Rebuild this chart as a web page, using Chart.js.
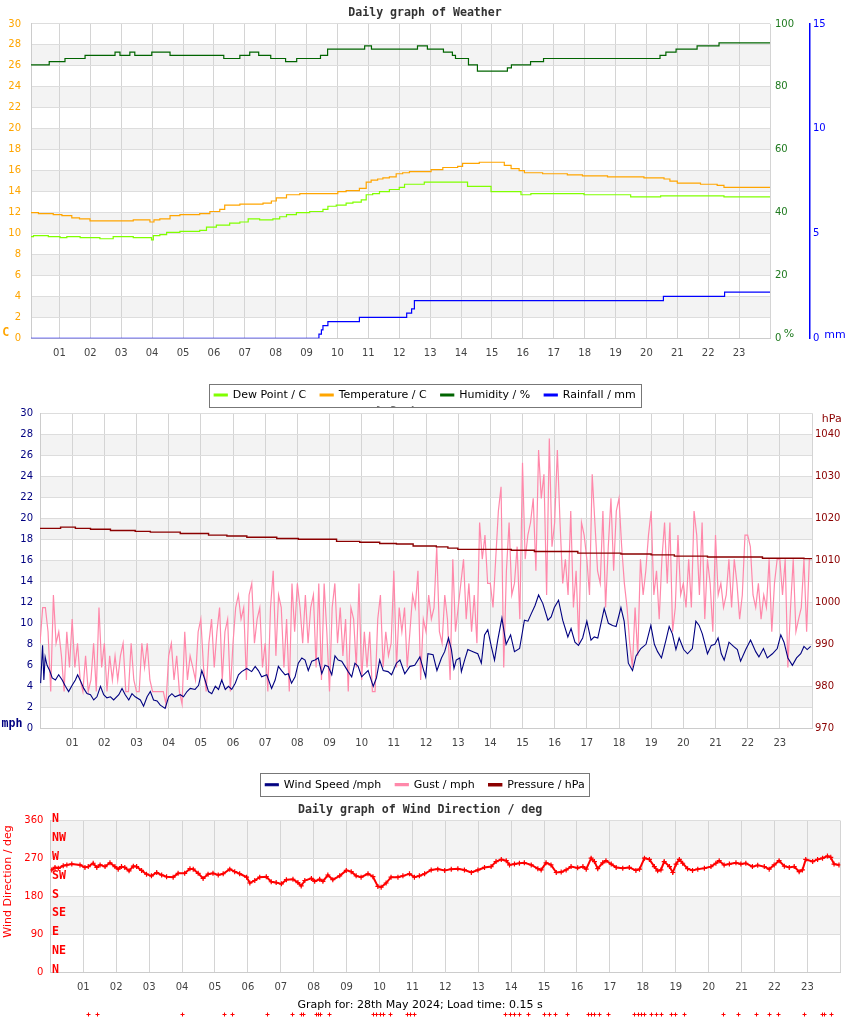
<!DOCTYPE html>
<html>
<head>
<meta charset="utf-8">
<script src="https://cdn.jsdelivr.net/npm/chart.js@4.4.1/dist/chart.umd.min.js"></script>
<style>
  body { margin: 0; background: #fff; }
  #wrap { position: relative; width: 850px; height: 1017px; }
  canvas { position: absolute; left: 0; }
  #weatherChart { top: 0; z-index: 2; }
  #windChart { top: 384px; z-index: 1; }
  #dirChart { top: 795px; z-index: 3; }
</style>
</head>
<body>
<div id="wrap">
  <canvas id="weatherChart" width="850" height="411"></canvas>
  <canvas id="windChart" width="850" height="417"></canvas>
  <canvas id="dirChart" width="850" height="222"></canvas>
</div>
<script>
// ---- weather (hours of day) ----
const humTimes = [0.08, 0.67, 1.18, 1.83, 2.80, 2.96, 3.28, 3.44, 3.99, 4.58, 6.32, 6.84, 7.16, 7.45, 7.84,
  8.32, 8.68, 9.45, 9.68, 10.88, 11.10, 12.59, 12.91, 13.43, 13.72, 13.82, 14.24, 14.53, 15.50, 15.63,
  16.25, 16.67, 20.44, 20.63, 20.96, 21.64, 22.35, 24];
const humidity = [87, 88, 89, 90, 91, 90, 91, 90, 91, 90, 89, 90, 91, 90, 89,
  88, 89, 90, 92, 93, 92, 93, 92, 91, 90, 89, 87, 85, 86, 87,
  88, 89, 90, 91, 92, 93, 94, 94];

const tempTimes = [0.08, 0.32, 0.80, 1.08, 1.40, 1.65, 1.99, 2.64, 3.39, 3.93, 4.06, 4.25, 4.58, 4.90, 5.54,
  5.87, 6.19, 6.35, 6.84, 7.59, 7.86, 8.02, 8.35, 8.78, 9.26, 9.59, 10.01, 10.28, 10.71, 10.93,
  11.09, 11.30, 11.47, 11.68, 11.90, 12.11, 12.33, 13.03, 13.41, 13.89, 14.05, 14.59, 15.40, 15.62, 15.88,
  16.05, 16.64, 17.44, 17.93, 18.74, 19.49, 19.92, 20.57, 20.76, 21.00, 21.75, 22.29, 22.51, 24];
const temperature = [12.0, 11.9, 11.8, 11.7, 11.5, 11.4, 11.2, 11.2, 11.3, 11.1, 11.3, 11.4, 11.7, 11.8, 11.9,
  12.1, 12.3, 12.7, 12.8, 12.9, 13.1, 13.4, 13.7, 13.8, 13.8, 13.8, 14.0, 14.1, 14.3, 14.9,
  15.1, 15.2, 15.3, 15.4, 15.7, 15.8, 15.9, 16.1, 16.3, 16.4, 16.7, 16.8, 16.5, 16.2, 16.0,
  15.8, 15.7, 15.6, 15.5, 15.4, 15.4, 15.3, 15.2, 15.0, 14.8, 14.7, 14.6, 14.4, 14.4];

const dewTimes = [0.08, 0.16, 0.64, 1.02, 1.24, 1.67, 2.31, 2.74, 3.39, 3.98, 4.04, 4.25, 4.47, 4.90, 5.54,
  5.76, 6.08, 6.51, 6.84, 7.11, 7.48, 7.91, 8.13, 8.35, 8.67, 9.10, 9.53, 9.69, 9.96, 10.28,
  10.50, 10.77, 10.93, 11.14, 11.36, 11.68, 12.00, 12.17, 12.81, 13.50, 14.21, 14.97, 15.94, 16.26, 17.98,
  19.49, 20.46, 22.51, 24];
const dewPoint = [9.7, 9.8, 9.7, 9.6, 9.7, 9.6, 9.5, 9.7, 9.6, 9.4, 9.8, 9.9, 10.1, 10.2, 10.3,
  10.6, 10.8, 11.0, 11.1, 11.4, 11.3, 11.4, 11.6, 11.8, 12.0, 12.1, 12.3, 12.6, 12.7, 12.9,
  13.0, 13.2, 13.7, 13.8, 14.0, 14.2, 14.4, 14.7, 14.9, 14.9, 14.5, 14.0, 13.7, 13.8, 13.7,
  13.5, 13.6, 13.5, 13.5];

const rainTimes = [0.08, 9.40, 9.48, 9.53, 9.69, 10.71, 12.24, 12.40, 12.49, 20.55, 22.53, 24];
const rainfall = [0, 0.2, 0.4, 0.6, 0.8, 1.0, 1.2, 1.4, 1.8, 2.0, 2.2, 2.2];

// ---- wind and pressure ----
const windTimes = [
  0.02, 0.08, 0.12, 0.16, 0.22, 0.30, 0.38, 0.48, 0.58, 0.69, 0.79, 0.89,
  1.00, 1.10, 1.17, 1.26, 1.36, 1.46, 1.57, 1.67, 1.77, 1.88, 1.98,
  2.08, 2.19, 2.29, 2.45, 2.55, 2.65, 2.76, 2.86, 2.96,
  3.12, 3.22, 3.33, 3.43, 3.53, 3.64, 3.74, 3.89,
  4.00, 4.10, 4.20, 4.36, 4.46, 4.57, 4.67, 4.82, 4.93,
  5.03, 5.13, 5.24, 5.34, 5.45, 5.55, 5.65, 5.76, 5.86, 5.96,
  6.07, 6.17, 6.27, 6.43, 6.58, 6.69, 6.79, 6.89,
  7.05, 7.20, 7.31, 7.41, 7.51, 7.62, 7.72, 7.82, 7.93,
  8.03, 8.14, 8.24, 8.34, 8.45, 8.55, 8.65, 8.76, 8.86, 8.96,
  9.07, 9.17, 9.27, 9.38, 9.48, 9.58, 9.69, 9.79, 9.89,
  10.00, 10.10, 10.20, 10.36, 10.46, 10.56, 10.67, 10.82, 10.93,
  11.08, 11.19, 11.34, 11.50, 11.65, 11.81, 11.93, 11.99,
  12.06, 12.22, 12.34, 12.48, 12.58, 12.70, 12.79, 12.87, 12.94,
  13.05, 13.10, 13.20, 13.30, 13.46, 13.61, 13.72, 13.82, 13.92,
  14.03, 14.13, 14.23, 14.36, 14.49, 14.63, 14.75, 14.91,
  15.06, 15.17, 15.27, 15.39, 15.50, 15.63, 15.79, 15.89, 15.99,
  16.12, 16.25, 16.41, 16.51, 16.63, 16.74, 16.87,
  17.00, 17.13, 17.23, 17.34, 17.54, 17.67, 17.80, 17.91,
  18.06, 18.16, 18.29, 18.42, 18.53, 18.68, 18.84, 18.99,
  19.10, 19.20, 19.32, 19.46, 19.56, 19.66, 19.77, 19.87,
  20.01, 20.13, 20.28, 20.39, 20.49, 20.59, 20.75, 20.87, 20.98,
  21.08, 21.18, 21.27, 21.42, 21.56, 21.68, 21.78, 21.94,
  22.09, 22.25, 22.35, 22.49, 22.61, 22.77, 22.92,
  23.03, 23.13, 23.25, 23.39, 23.52, 23.65, 23.75, 23.85, 23.96];
const windSpeed = [
  4.3, 7.9, 4.6, 6.8, 6.0, 5.5, 4.8, 4.6, 5.1, 4.6, 4.0, 3.5,
  4.1, 4.6, 5.1, 4.5, 3.8, 3.3, 3.2, 2.7, 3.0, 4.0, 3.2,
  2.9, 3.0, 2.7, 3.2, 3.8, 3.2, 2.7, 3.3, 3.0,
  2.7, 2.1, 3.0, 3.5, 2.7, 2.6, 2.2, 1.9,
  3.0, 3.3, 3.0, 3.2, 3.0, 3.5, 3.8, 3.7, 4.1,
  5.5, 4.6, 3.5, 3.3, 4.0, 3.7, 4.6, 3.7, 4.0, 3.7,
  4.3, 5.1, 5.4, 5.7, 5.4, 5.9, 5.5, 4.9,
  5.1, 3.8, 4.6, 5.9, 5.5, 5.1, 5.2, 4.3, 4.9,
  6.2, 6.7, 6.5, 5.5, 6.4, 6.5, 6.7, 5.2, 6.0, 5.9,
  5.1, 6.9, 6.5, 6.4, 5.9, 5.4, 4.9, 6.2, 5.9,
  4.9, 5.2, 5.5, 4.0, 4.8, 6.5, 5.5, 5.4, 5.1,
  6.2, 6.5, 5.2, 5.9, 6.0, 6.8, 5.5, 4.9,
  7.1, 7.0, 5.5, 6.7, 7.3, 8.6, 7.5, 5.7, 6.5,
  6.7, 5.4, 6.5, 7.5, 7.3, 7.1, 6.2, 8.9, 9.4,
  7.8, 6.5, 8.4, 10.5, 8.0, 8.9, 7.3, 7.6,
  10.3, 10.2, 10.9, 11.7, 12.7, 11.9, 10.3, 10.6, 11.5,
  12.2, 10.3, 8.7, 9.5, 8.2, 7.9, 8.6,
  10.2, 8.4, 8.7, 8.6, 11.4, 10.0, 9.8, 9.7,
  11.5, 10.2, 6.2, 5.5, 6.9, 7.6, 8.0, 9.8,
  8.0, 7.3, 6.7, 8.4, 9.7, 9.0, 7.5, 8.6,
  7.5, 7.1, 7.6, 10.2, 9.8, 9.0, 7.1, 7.9, 8.0,
  8.6, 7.1, 6.5, 8.2, 7.8, 7.5, 6.4, 7.5,
  8.4, 7.3, 6.8, 7.6, 6.7, 7.1, 7.6,
  8.9, 8.2, 6.7, 6.0, 6.7, 7.1, 7.8, 7.5, 7.8];

// gust readings every 5 minutes, one row per hour
const gustSpeed = [
  8.1, 11.5, 11.5, 9.2, 3.5, 12.7, 8.1, 9.2, 6.9, 3.5, 9.2, 5.8,
  10.4, 5.8, 8.1, 4.6, 3.5, 6.9, 3.5, 4.6, 8.1, 3.5, 11.5, 5.8,
  8.1, 3.5, 6.9, 4.6, 6.9, 4.6, 6.9, 8.1, 3.5, 3.5, 8.1, 4.6,
  3.5, 3.5, 8.1, 5.8, 8.1, 4.6, 3.5, 3.5, 3.5, 3.5, 3.5, 2.3,
  6.9, 8.1, 4.6, 6.9, 3.5, 2.3, 9.2, 4.6, 6.9, 5.8, 4.6, 9.2,
  10.4, 5.8, 3.5, 8.1, 10.4, 5.8, 9.2, 11.5, 4.6, 9.2, 10.4, 3.5,
  8.1, 11.5, 12.7, 10.4, 11.5, 4.6, 12.7, 13.8, 8.1, 10.4, 11.5, 5.8,
  8.1, 3.5, 11.5, 15.0, 6.9, 12.7, 11.5, 5.8, 10.4, 3.5, 13.8, 9.2,
  13.8, 11.5, 8.1, 12.7, 8.1, 11.5, 12.7, 5.8, 13.8, 4.6, 13.8, 9.2,
  3.5, 11.5, 13.8, 8.1, 11.5, 6.9, 10.4, 3.5, 11.5, 10.4, 5.8, 13.8,
  4.6, 9.2, 5.8, 9.2, 3.5, 3.5, 10.4, 12.7, 5.8, 9.2, 6.9, 8.1,
  15.0, 5.8, 11.5, 9.2, 11.5, 5.8, 9.2, 12.7, 11.5, 15.0, 4.6, 10.4,
  9.2, 12.7, 10.4, 11.5, 17.3, 9.2, 8.1, 12.7, 10.4, 4.6, 16.1, 9.2,
  11.5, 13.8, 16.1, 10.4, 13.8, 9.2, 12.7, 8.1, 19.6, 16.1, 18.4, 13.8,
  13.8, 11.5, 16.1, 20.7, 23.0, 5.8, 15.0, 19.6, 12.7, 13.8, 17.3, 10.4,
  25.3, 16.1, 18.4, 19.6, 21.9, 15.0, 26.5, 21.9, 24.2, 12.7, 27.6, 17.3,
  19.6, 26.5, 19.6, 13.8, 16.1, 12.7, 20.7, 11.5, 15.0, 8.1, 19.6, 18.4,
  16.1, 12.7, 24.2, 19.6, 15.0, 13.8, 20.7, 11.5, 17.3, 21.9, 15.0, 20.7,
  21.9, 17.3, 13.8, 11.5, 8.1, 5.8, 11.5, 6.9, 16.1, 12.7, 15.0, 18.4,
  20.7, 12.7, 15.0, 10.4, 16.1, 19.6, 13.8, 19.6, 9.2, 11.5, 18.4, 12.7,
  13.8, 11.5, 16.1, 11.5, 20.7, 18.4, 12.7, 19.6, 10.4, 16.1, 13.8, 9.2,
  18.4, 12.7, 13.8, 11.5, 12.7, 16.1, 11.5, 16.1, 13.8, 10.4, 12.7, 18.4,
  18.4, 17.3, 12.7, 11.5, 13.8, 10.4, 12.7, 11.5, 16.1, 9.2, 13.8, 16.1,
  16.1, 12.7, 16.1, 5.8, 11.5, 16.1, 9.2, 10.4, 11.5, 16.1, 9.2, 16.1];
const gustTimes = gustSpeed.map((_, i) => i / 12);

const pressTimes = [0, 0.64, 1.10, 1.57, 2.19, 2.96, 3.43, 4.36, 5.24, 5.81, 6.43, 7.36, 8.03, 9.22, 9.94,
  10.56, 11.08, 11.60, 12.32, 12.68, 12.99, 14.65, 15.37, 16.72, 18.06, 19.00, 19.72, 20.75, 22.46, 23.75, 24];
const pressure = [1017.6, 1017.9, 1017.6, 1017.4, 1017.1, 1016.9, 1016.7, 1016.4, 1016.0, 1015.8, 1015.5, 1015.2, 1015.0, 1014.5, 1014.3,
  1014.0, 1013.9, 1013.4, 1013.2, 1012.9, 1012.6, 1012.4, 1012.1, 1011.7, 1011.5, 1011.3, 1011.0, 1010.8, 1010.5, 1010.4, 1010.5];

// ---- wind direction ----
const dirTimes = [
  0.04, 0.14, 0.24, 0.39, 0.50, 0.65, 0.90,
  1.05, 1.15, 1.30, 1.41, 1.51, 1.66, 1.81, 1.96,
  2.06, 2.16, 2.26, 2.39, 2.52, 2.62, 2.77, 2.92,
  3.07, 3.23, 3.38, 3.53, 3.73, 3.88,
  4.08, 4.24, 4.34, 4.49, 4.64, 4.79, 4.94,
  5.10, 5.25, 5.45, 5.60, 5.75, 5.96,
  6.06, 6.21, 6.36, 6.56, 6.71, 6.86,
  7.02, 7.17, 7.37, 7.52, 7.62, 7.73, 7.93,
  8.03, 8.18, 8.28, 8.43, 8.58, 8.79, 8.99,
  9.14, 9.29, 9.44, 9.65, 9.80, 9.95,
  10.05, 10.20, 10.35, 10.56, 10.71, 10.91,
  11.06, 11.21, 11.37, 11.57, 11.77, 11.98,
  12.18, 12.38, 12.58, 12.79, 12.99,
  13.19, 13.39, 13.54, 13.70, 13.85, 13.95,
  14.10, 14.25, 14.40, 14.61, 14.81, 14.91,
  15.06, 15.21, 15.37, 15.52, 15.67, 15.82,
  16.02, 16.18, 16.28, 16.43, 16.53, 16.63, 16.78, 16.88,
  17.04, 17.19, 17.39, 17.59, 17.79, 17.90,
  18.05, 18.20, 18.35, 18.45, 18.55, 18.65, 18.81, 18.91,
  19.01, 19.11, 19.21, 19.36, 19.51, 19.67, 19.87,
  20.07, 20.22, 20.32, 20.47, 20.63, 20.83, 20.98,
  21.13, 21.33, 21.49, 21.69, 21.84, 21.99,
  22.14, 22.30, 22.45, 22.60, 22.75, 22.85, 22.95,
  23.16, 23.31, 23.46, 23.61, 23.71, 23.81, 23.96];
const dirDegrees = [
  243, 249, 247, 253, 255, 257, 255,
  249, 251, 259, 249, 255, 251, 260, 251,
  245, 251, 249, 241, 252, 251, 242, 233,
  229, 237, 231, 227, 226, 235,
  235, 246, 245, 235, 223, 233, 235,
  231, 234, 245, 239, 234, 226,
  212, 218, 226, 227, 215, 213,
  210, 220, 221, 213, 205, 218, 223,
  216, 221, 216, 231, 220, 229, 242,
  239, 229, 226, 234, 227, 204,
  202, 212, 226, 226, 229, 234,
  226, 229, 234, 243, 245, 242,
  245, 246, 243, 237, 243,
  249, 251, 263, 268, 265, 255,
  257, 259, 260, 255, 246, 243,
  260, 255, 237, 238, 243, 251,
  248, 251, 245, 271, 263, 246, 260, 265,
  257, 249, 247, 249, 242, 245,
  271, 268, 251, 241, 243, 263, 251, 237,
  257, 268, 259, 246, 242, 245, 247,
  251, 259, 265, 255, 257, 260, 257,
  259, 251, 254, 251, 245, 255,
  265, 252, 249, 251, 239, 243, 268,
  263, 268, 271, 276, 273, 257, 255];
const calmTimes = [1.15, 1.41, 4.01, 5.27, 5.53, 6.58, 7.35, 7.62, 7.67, 8.08, 8.14, 8.20, 8.46,
  9.80, 9.90, 10.00, 10.10, 10.32, 10.83, 10.93, 11.06, 13.80, 13.95, 14.10, 14.25, 14.51,
  15.01, 15.16, 15.32, 15.70, 16.33, 16.43, 16.53, 16.68, 16.93, 17.74, 17.84, 17.95, 18.05,
  18.25, 18.40, 18.55, 18.86, 18.98, 19.26, 20.45, 20.88, 21.44, 21.84, 22.11, 22.90, 23.43, 23.51, 23.73];
const calmLevel = -100;
const compassNames = ["N", "NE", "E", "SE", "S", "SW", "W", "NW", "N"];
const compassDegrees = [0, 45, 90, 135, 180, 225, 270, 315, 360];

function pairs(xs, ys) {
  return xs.map((x, i) => ({ x: x, y: ys[i] }));
}

const tickFont = { family: "DejaVu Sans", size: 10 };
const legendFont = { family: "DejaVu Sans", size: 11 };
const titleFont = { family: "DejaVu Sans Mono", size: 11.6, weight: "bold" };

function hourAxis(min, height) {
  return {
    type: "linear", min: min, max: 24,
    afterFit: (s) => { s.height = height; },
    grid: { color: "#d4d4d4", drawTicks: false },
    border: { color: "#cccccc" },
    ticks: {
      stepSize: 1, includeBounds: false, autoSkip: false, maxRotation: 0, padding: 9,
      color: "#444", font: tickFont,
      callback: (v) => (Number.isInteger(v) && v >= 1 && v <= 23) ? String(v).padStart(2, "0") : "",
    },
  };
}

// alternating grey bands between the horizontal grid lines
const bands = {
  id: "bands",
  beforeDraw(chart, args, opts) {
    const s = chart.scales[opts.scaleId || "y"];
    const a = chart.chartArea;
    const ctx = chart.ctx;
    ctx.save();
    ctx.fillStyle = "#f3f3f3";
    for (let i = 1; i < s.ticks.length - 1; i += 2) {
      const y1 = s.getPixelForValue(s.ticks[i].value);
      const y2 = s.getPixelForValue(s.ticks[i + 1].value);
      ctx.fillRect(a.left, y2, a.width, y1 - y2);
    }
    ctx.restore();
  },
};

const unitLabels = {
  id: "unitLabels",
  afterDraw(chart, args, opts) {
    const ctx = chart.ctx;
    (opts.items || []).forEach((it) => {
      ctx.save();
      ctx.font = it.font;
      ctx.fillStyle = it.color;
      ctx.textAlign = "center";
      ctx.textBaseline = "middle";
      ctx.translate(it.x, it.y);
      if (it.rotate) ctx.rotate(it.rotate);
      ctx.fillText(it.text, 0, 0);
      ctx.restore();
    });
  },
};

// white box with grey frame behind the legend
const legendBox = {
  id: "legendBox",
  beforeDraw(chart) {
    const boxes = chart.legend && chart.legend.legendHitBoxes;
    if (!boxes || !boxes.length) return;
    const left = Math.min(...boxes.map((b) => b.left)) - 5;
    const right = Math.max(...boxes.map((b) => b.left + b.width)) + 5;
    const top = boxes[0].top - 5.8;
    const bottom = boxes[0].top + boxes[0].height + 5.8;
    const ctx = chart.ctx;
    ctx.save();
    ctx.fillStyle = "#fff";
    ctx.fillRect(left, top, right - left, bottom - top);
    ctx.strokeStyle = "#777";
    ctx.lineWidth = 1;
    ctx.strokeRect(Math.round(left) + 0.5, Math.round(top) + 0.5, Math.round(right - left), Math.round(bottom - top));
    ctx.restore();
  },
};

const compass = {
  id: "compass",
  afterDraw(chart) {
    const xs = chart.scales.x, ys = chart.scales.y, ctx = chart.ctx;
    ctx.save();
    ctx.font = "bold 11.6px 'DejaVu Sans Mono'";
    ctx.fillStyle = "#ff0000";
    ctx.textAlign = "left";
    ctx.textBaseline = "middle";
    compassNames.forEach((n, i) => {
      ctx.fillText(n, chart.chartArea.left + 1.5, ys.getPixelForValue(compassDegrees[i]) - 2);
    });
    // calm readings drawn under the plot
    ctx.strokeStyle = "#ff0000";
    ctx.lineWidth = 1;
    calmTimes.forEach((t) => {
      const px = Math.round(xs.getPixelForValue(t)) + 0.5;
      const py = Math.round(ys.getPixelForValue(calmLevel)) + 0.5;
      ctx.beginPath();
      ctx.moveTo(px - 2, py); ctx.lineTo(px + 2, py);
      ctx.moveTo(px, py - 2); ctx.lineTo(px, py + 2);
      ctx.stroke();
    });
    ctx.restore();
  },
};

const legendLabels = { font: legendFont, color: "#000", boxWidth: 13, boxHeight: 2, padding: 14 };

new Chart(document.getElementById("weatherChart"), {
  type: "line",
  data: {
    datasets: [
      { label: "Dew Point / C", data: pairs(dewTimes, dewPoint), borderColor: "#80ff00", backgroundColor: "#80ff00", yAxisID: "y", stepped: true },
      { label: "Temperature / C", data: pairs(tempTimes, temperature), borderColor: "#ffa500", backgroundColor: "#ffa500", yAxisID: "y", stepped: true },
      { label: "Humidity / %", data: pairs(humTimes, humidity), borderColor: "#006400", backgroundColor: "#006400", yAxisID: "yHum", stepped: true },
      { label: "Rainfall / mm", data: pairs(rainTimes, rainfall), borderColor: "#0000ff", backgroundColor: "#0000ff", yAxisID: "yRain", stepped: true },
    ],
  },
  options: {
    responsive: false,
    animation: false,
    events: [],
    elements: { point: { radius: 0 }, line: { borderWidth: 1.2 } },
    layout: { padding: { bottom: 0.5 } },
    scales: {
      x: hourAxis(0.08, 37.2),
      y: {
        position: "left", min: 0, max: 30,
        afterFit: (s) => { s.width = 31; },
        grid: { color: "#dddddd", drawTicks: false },
        border: { color: "#cccccc" },
        ticks: { stepSize: 2, padding: 10, color: "#ffa500", font: tickFont },
      },
      yHum: {
        position: "right", min: 0, max: 100, weight: 0,
        afterFit: (s) => { s.width = 40; },
        grid: { display: false, drawTicks: false },
        border: { display: false },
        ticks: { stepSize: 20, padding: 5, color: "#1f7a1f", font: tickFont },
      },
      yRain: {
        position: "right", min: 0, max: 15, weight: 1,
        afterFit: (s) => { s.width = 40; },
        grid: { display: false, drawTicks: false },
        border: { color: "#0000ff", width: 1.5 },
        ticks: { stepSize: 5, padding: 3, color: "#0000ff", font: tickFont },
      },
    },
    plugins: {
      title: { display: true, text: "Daily graph of Weather", font: titleFont, color: "#333", padding: { top: 6, bottom: 4 } },
      legend: { position: "bottom", labels: legendLabels },
      tooltip: { enabled: false },
      bands: { scaleId: "y" },
      unitLabels: {
        items: [
          { text: "C", x: 5.8, y: 333, color: "#ffa500", font: "bold 11.6px 'DejaVu Sans Mono'" },
          { text: "%", x: 789, y: 334, color: "#1f7a1f", font: "11px 'DejaVu Sans'" },
          { text: "mm", x: 835, y: 335, color: "#0000ff", font: "11px 'DejaVu Sans'" },
        ],
      },
    },
  },
  plugins: [bands, unitLabels, legendBox],
});

new Chart(document.getElementById("windChart"), {
  type: "line",
  data: {
    datasets: [
      { label: "Wind Speed /mph", data: pairs(windTimes, windSpeed), borderColor: "#000080", backgroundColor: "#000080", borderWidth: 1.1, yAxisID: "y", order: 0 },
      { label: "Gust / mph", data: pairs(gustTimes, gustSpeed), borderColor: "#ff88aa", backgroundColor: "#ff88aa", borderWidth: 1.2, yAxisID: "y", order: 2 },
      { label: "Pressure / hPa", data: pairs(pressTimes, pressure), borderColor: "#8b0000", backgroundColor: "#8b0000", borderWidth: 1.4, yAxisID: "yP", stepped: true, order: 1 },
    ],
  },
  options: {
    responsive: false,
    animation: false,
    events: [],
    elements: { point: { radius: 0 } },
    layout: { padding: { bottom: 0.8 } },
    scales: {
      x: hourAxis(0, 36.9),
      y: {
        position: "left", min: 0, max: 30,
        afterFit: (s) => { s.width = 40; },
        grid: { color: "#dddddd", drawTicks: false },
        border: { color: "#cccccc" },
        ticks: { stepSize: 2, padding: 7, color: "#000080", font: tickFont },
      },
      yP: {
        position: "right", min: 970, max: 1045,
        afterFit: (s) => { s.width = 38; },
        grid: { display: false, drawTicks: false },
        border: { display: false },
        ticks: { stepSize: 10, includeBounds: false, padding: 3, color: "#8b0000", font: tickFont, callback: (v) => String(v) },
      },
    },
    plugins: {
      title: { display: true, text: "Daily graph of Weather", font: titleFont, color: "#333", padding: { top: 10, bottom: 5.4 } },
      legend: { position: "bottom", labels: Object.assign({}, legendLabels, { sort: (a, b) => a.datasetIndex - b.datasetIndex }) },
      tooltip: { enabled: false },
      bands: { scaleId: "y" },
      unitLabels: {
        items: [
          { text: "mph", x: 12, y: 339.5, color: "#000080", font: "bold 11.6px 'DejaVu Sans Mono'" },
          { text: "hPa", x: 831.7, y: 35, color: "#8b0000", font: "11px 'DejaVu Sans'" },
        ],
      },
    },
  },
  plugins: [bands, unitLabels, legendBox],
});

new Chart(document.getElementById("dirChart"), {
  type: "scatter",
  data: {
    datasets: [
      {
        label: "Wind Direction / deg", data: pairs(dirTimes, dirDegrees),
        showLine: true, borderColor: "#ff0000", backgroundColor: "#ff0000", borderWidth: 2,
        pointStyle: "cross", pointRadius: 2.5, pointBorderWidth: 1.2, pointBorderColor: "#ff0000",
      },
    ],
  },
  options: {
    responsive: false,
    animation: false,
    events: [],
    layout: { padding: { right: 9.7 } },
    scales: {
      x: hourAxis(0, 24),
      y: {
        position: "left", min: 0, max: 360,
        afterFit: (s) => { s.width = 50.4; },
        grid: { color: "#dddddd", drawTicks: false },
        border: { color: "#cccccc" },
        ticks: { stepSize: 90, padding: 7, color: "#ff0000", font: tickFont },
      },
    },
    plugins: {
      title: { display: true, text: "Daily graph of Wind Direction / deg", font: titleFont, color: "#333", padding: { top: 8, bottom: 3.78 } },
      subtitle: {
        display: true, position: "bottom", text: "Graph for: 28th May 2024; Load time: 0.15 s",
        font: { family: "DejaVu Sans", size: 11 }, color: "#000", padding: { top: 2.1, bottom: 5.4 },
      },
      legend: { display: false },
      tooltip: { enabled: false },
      bands: { scaleId: "y" },
      unitLabels: {
        items: [
          { text: "Wind Direction / deg", x: 8.3, y: 86.5, rotate: -Math.PI / 2, color: "#ff0000", font: "11px 'DejaVu Sans'" },
        ],
      },
    },
  },
  plugins: [bands, unitLabels, compass],
});
</script>
</body>
</html>
